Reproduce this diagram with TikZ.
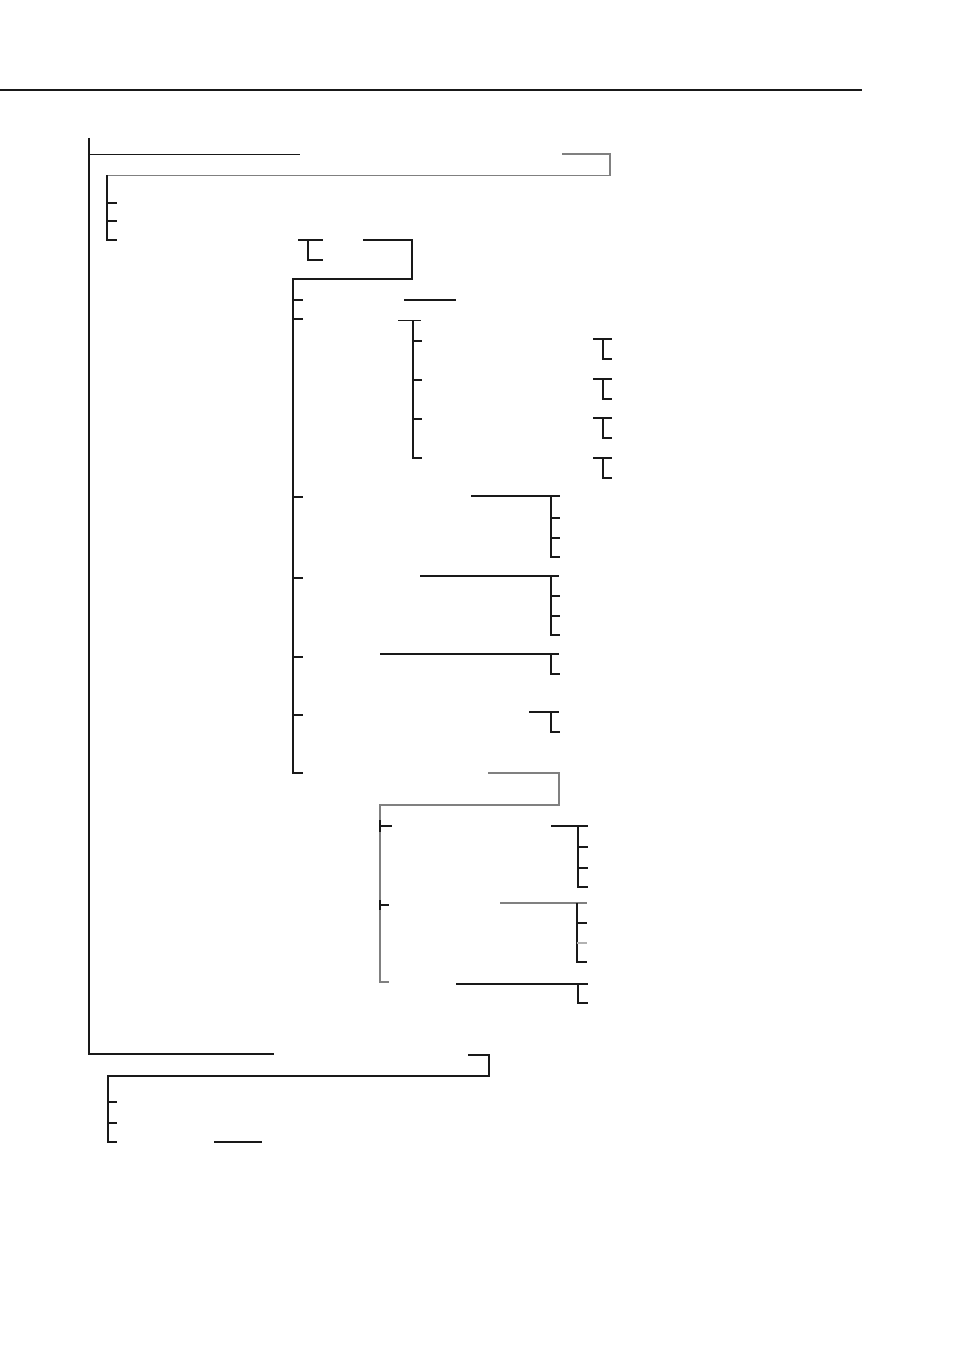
\documentclass[tikz,border=0pt]{standalone}
\begin{document}
\begin{tikzpicture}[x=1pt,y=-1pt,
  ln/.style={line width=1.3pt, black!90},
  gr/.style={line width=1.3pt, black!50},
  lgr/.style={line width=1.3pt, black!30},
  rulel/.style={line width=2pt, black!90}]
\useasboundingbox (0,0) rectangle (954,1351);
\fill[white] (0,0) rectangle (954,1351);
% top rule
\draw[rulel] (0,90) -- (862,90);
% main trunk
\draw[ln] (89,138) -- (89,1054) -- (274,1054);
\draw[ln] (89,154.5) -- (300,154.5);
% first group (gray bracket)
\draw[gr] (562,154) -- (610,154) -- (610,175.5) -- (107,175.5);
\draw[ln] (107,175.5) -- (107,240) -- (117,240);
\draw[ln] (107,203) -- (117,203);
\draw[ln] (107,221) -- (117,221);
% second group
\draw[ln] (298,240) -- (323,240);
\draw[ln] (308,240) -- (308,260) -- (323,260);
\draw[ln] (363,240) -- (412,240) -- (412,279) -- (293,279) -- (293,773) -- (303,773);
\foreach \y in {300,319,497,578,657,715} \draw[ln] (293,\y) -- (303,\y);
\draw[ln] (404,300) -- (456,300);
\draw[ln] (398,320.5) -- (421,320.5);
\draw[ln] (413,320.5) -- (413,458) -- (422,458);
\foreach \y in {341,380,419} \draw[ln] (413,\y) -- (422,\y);
\foreach \y in {339,379,418,458}
  \draw[ln] (593,\y) -- (612,\y) (603,\y) -- (603,\y+20) -- (612,\y+20);
% sub brackets
\draw[ln] (471,496) -- (560,496);
\draw[ln] (551,496) -- (551,557) -- (560,557);
\foreach \y in {518,538} \draw[ln] (551,\y) -- (560,\y);
\draw[ln] (420,576) -- (559,576);
\draw[ln] (551,576) -- (551,635) -- (560,635);
\foreach \y in {596,616} \draw[ln] (551,\y) -- (560,\y);
\draw[ln] (380,654) -- (559,654);
\draw[ln] (551,654) -- (551,674) -- (560,674);
\draw[ln] (529,712) -- (559,712);
\draw[ln] (551,712) -- (551,732) -- (560,732);
% third group (gray bracket)
\draw[gr] (488,773) -- (559,773) -- (559,805) -- (380,805) -- (380,982) -- (389,982);
\draw[ln] (380,820) -- (380,832);
\draw[ln] (380,900) -- (380,910);
\draw[ln] (380,826) -- (392,826);
\draw[ln] (380,905) -- (389,905);
\draw[ln] (551,826) -- (588,826);
\draw[ln] (578,826) -- (578,887) -- (588,887);
\foreach \y in {847,868} \draw[ln] (578,\y) -- (588,\y);
\draw[gr] (500,903) -- (587,903);
\draw[ln] (577,903) -- (577,962) -- (587,962);
\draw[ln] (577,923) -- (587,923);
\draw[lgr] (577,943) -- (587,943);
\draw[ln] (456,984) -- (588,984);
\draw[ln] (578,984) -- (578,1003) -- (588,1003);
% bottom group
\draw[ln] (468,1055) -- (489,1055) -- (489,1076) -- (108,1076) -- (108,1142) -- (117,1142);
\foreach \y in {1102,1123} \draw[ln] (108,\y) -- (117,\y);
\draw[ln] (214,1142) -- (262,1142);
\end{tikzpicture}
\end{document}
